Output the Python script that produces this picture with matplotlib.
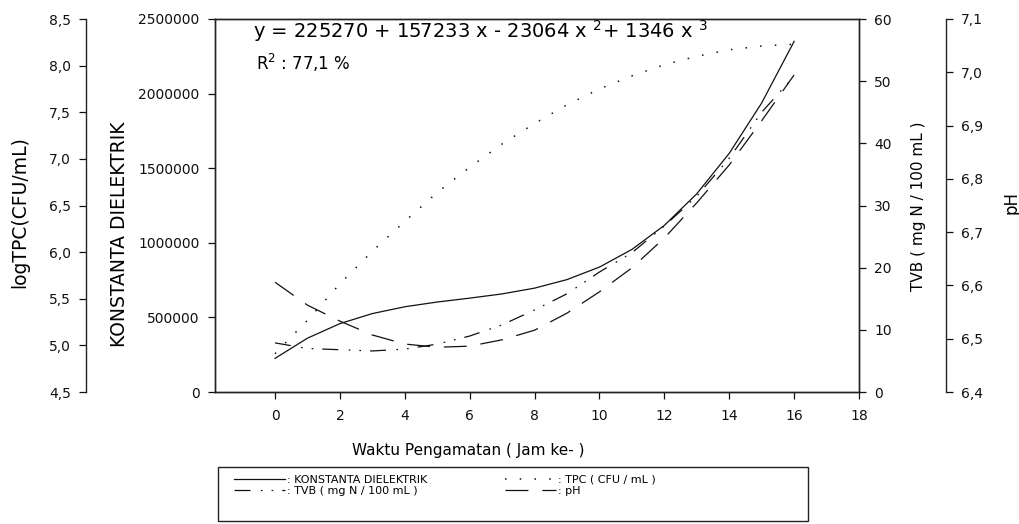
import matplotlib
matplotlib.use("Agg")
import matplotlib.pyplot as plt
from matplotlib import ticker
from matplotlib.patches import Rectangle

plt.rcParams['font.family'] = ['DejaVu Sans']
plt.rcParams['lines.scale_dashes'] = False
plt.rcParams['mathtext.fontset'] = 'dejavusans'

# jam pengamatan
jam = [0, 1, 2, 3, 4, 5, 6, 7, 8, 9, 10, 11, 12, 13, 14, 15, 16]

# nilai
konstanta = [225270, 360785, 458248, 525735, 571322, 603085, 629100, 657443,
             696190, 753417, 837200, 955615, 1116738, 1328645, 1599412,
             1937115, 2349830]
log_tpc = [4.91, 5.27, 5.66, 6.01, 6.33, 6.64, 6.91, 7.16, 7.38, 7.58, 7.75,
           7.89, 8.01, 8.10, 8.17, 8.21, 8.23]
tvb = [7.9, 7.0, 6.8, 6.6, 6.9, 7.7, 9.0, 10.8, 13.2, 15.8, 19.3, 22.4, 26.7,
       31.5, 37.6, 45.0, 50.8]
ph = [6.606, 6.563, 6.533, 6.507, 6.490, 6.484, 6.486, 6.498, 6.516, 6.548,
      6.588, 6.633, 6.689, 6.755, 6.826, 6.909, 6.995]

x_ticks = [0, 2, 4, 6, 8, 10, 12, 14, 16, 18]
kd_ticks = [0, 500000, 1000000, 1500000, 2000000, 2500000]
tpc_ticks = [4.5, 5.0, 5.5, 6.0, 6.5, 7.0, 7.5, 8.0, 8.5]
tvb_ticks = [0, 10, 20, 30, 40, 50, 60]
ph_ticks = [6.4, 6.5, 6.6, 6.7, 6.8, 6.9, 7.0, 7.1]

W, H = 1020, 524
PX = 72 / 100  # piksel -> poin
fig = plt.figure(figsize=(W / 100, H / 100), dpi=100)
ax = fig.add_axes([215 / W, 1 - 392 / H, (859 - 215) / W, (392 - 19) / H])

lw = 0.9
col = '#111111'
comma = ticker.FuncFormatter(lambda v, p: f"{v:.1f}".replace('.', ','))

# sumbu utama: konstanta dielektrik
l_kd, = ax.plot(jam, konstanta, color=col, lw=lw, label=': KONSTANTA DIELEKTRIK')
ax.set_xlim(-1.85, 18)
ax.set_ylim(0, 2500000)
ax.set_xticks(x_ticks)
ax.set_yticks(kd_ticks)
ax.yaxis.set_major_formatter(ticker.FuncFormatter(lambda v, p: f"{v:.0f}"))

# TVB (kanan)
ax_tvb = ax.twinx()
l_tvb, = ax_tvb.plot(jam, tvb, color=col, lw=lw,
                     dashes=(11.5, 7.5, 1.2, 6.5, 1.2, 6.5),
                     label=': TVB ( mg N / 100 mL )')
ax_tvb.set_ylim(0, 60)
ax_tvb.set_yticks(tvb_ticks)

# pH (kanan luar)
ax_ph = ax.twinx()
l_ph, = ax_ph.plot(jam, ph, color=col, lw=lw, dashes=(16.5, 10),
                   label=': pH')
ax_ph.set_ylim(6.4, 7.1)
ax_ph.set_yticks(ph_ticks)
ax_ph.yaxis.set_major_formatter(comma)
ax_ph.spines['right'].set_position(('outward', 87 * PX))
for s in ['left', 'top', 'bottom']:
    ax_ph.spines[s].set_visible(False)

# log TPC (kiri luar)
ax_tpc = ax.twinx()
l_tpc, = ax_tpc.plot(jam, log_tpc, color=col, lw=1.1, dashes=(1.1, 9.5),
                     label=': TPC ( CFU / mL )')
ax_tpc.set_ylim(4.5, 8.5)
ax_tpc.set_yticks(tpc_ticks)
ax_tpc.yaxis.set_major_formatter(comma)
ax_tpc.yaxis.set_ticks_position('left')
ax_tpc.spines['left'].set_visible(True)
ax_tpc.spines['left'].set_position(('outward', 129 * PX))
for s in ['right', 'top', 'bottom']:
    ax_tpc.spines[s].set_visible(False)

for a in [ax, ax_tvb, ax_ph, ax_tpc]:
    for s in a.spines.values():
        s.set_linewidth(1.0)
        s.set_color('#222222')
    a.tick_params(axis='both', direction='out', length=5, width=0.9,
                  labelsize=10, colors='#111111', pad=6)
ax.tick_params(axis='x', pad=7)

# label sumbu
fig.text(20 / W, 1 - 212 / H, 'logTPC(CFU/mL)', rotation=90,
         ha='center', va='center', fontsize=13.5)
fig.text(120 / W, 1 - 234 / H, 'KONSTANTA DIELEKTRIK', rotation=90,
         ha='center', va='center', fontsize=13.5)
fig.text(919 / W, 1 - 206 / H, 'TVB ( mg N / 100 mL )', rotation=90,
         ha='center', va='center', fontsize=11)
fig.text(1012 / W, 1 - 203 / H, 'pH', rotation=90,
         ha='center', va='center', fontsize=12)
fig.text(468 / W, 1 - 451 / H, 'Waktu Pengamatan ( Jam ke- )',
         ha='center', va='center', fontsize=11)

# persamaan regresi
fig.text(253 / W, 1 - 38 / H,
         r'y = 225270 + 157233 x - 23064 x $^{2}$+ 1346 x $^{3}$',
         ha='left', va='baseline', fontsize=14)
fig.text(256 / W, 1 - 70 / H, r'R$^{2}$ : 77,1 %',
         ha='left', va='baseline', fontsize=12)

# legenda
fig.add_artist(Rectangle((218 / W, 1 - 521 / H), (808 - 218) / W,
                         (521 - 467) / H, transform=fig.transFigure,
                         fill=False, edgecolor='#222222', lw=1.0))
fig.legend(handles=[l_kd, l_tvb, l_tpc, l_ph], ncol=2, loc='upper left',
           bbox_to_anchor=(234 / W, 1 - 475 / H), frameon=False, fontsize=8,
           handlelength=4.6, handletextpad=0.15, columnspacing=7.0,
           labelspacing=0.1, borderpad=0, borderaxespad=0)

fig.savefig('out.png', dpi=100)
